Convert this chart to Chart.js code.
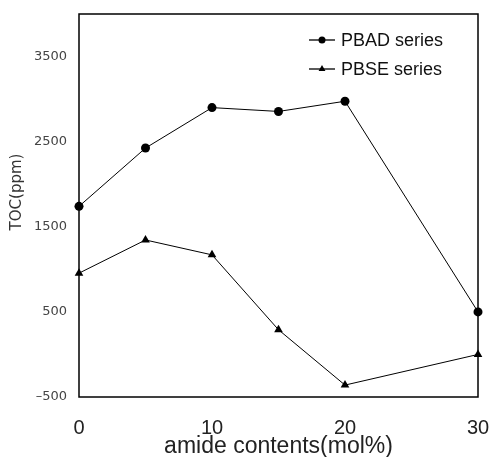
<!DOCTYPE html>
<html>
<head>
<meta charset="utf-8">
<script src="https://cdn.jsdelivr.net/npm/chart.js@4.4.1/dist/chart.umd.min.js"></script>
<style>
html,body{margin:0;padding:0;background:#fff;}
#wrap{width:491px;height:457px;position:relative;}
</style>
</head>
<body>
<div id="wrap"><canvas id="c" width="491" height="457"></canvas></div>
<script>
const amideContents = [0, 5, 10, 15, 20, 30];
const pbadValues = [1740, 2425, 2900, 2855, 2975, 500];
const pbseValues = [955, 1345, 1170, 290, -360, 0];
const seriesNames = ['PBAD series', 'PBSE series'];
const xTickValues = [0, 10, 20, 30];
const yTickValues = [-500, 500, 1500, 2500, 3500];
const xTitle = 'amide contents(mol%)';
const yTitle = 'TOC(ppm)';

const toPts = (vals) => amideContents.map((x, i) => ({x: x, y: vals[i]}));

const frameAndLegend = {
  id: 'frameAndLegend',
  afterDraw(chart) {
    const ctx = chart.ctx;
    const a = chart.chartArea;
    ctx.save();
    ctx.strokeStyle = '#000';
    ctx.lineWidth = 1.5;
    ctx.strokeRect(a.left, a.top, a.right - a.left, a.bottom - a.top);
    // y axis title
    ctx.save();
    ctx.translate(17, a.top + 178);
    ctx.rotate(-Math.PI / 2);
    ctx.fillStyle = '#333';
    ctx.font = '15px "DejaVu Sans", sans-serif';
    ctx.textAlign = 'center';
    ctx.textBaseline = 'middle';
    ctx.fillText(yTitle, 0, 0);
    ctx.restore();
    // legend
    chart.data.datasets.forEach((ds, i) => {
      const y = a.top + 26 + i * 29;
      const x0 = a.right - 169;
      const x1 = x0 + 26;
      ctx.strokeStyle = '#000';
      ctx.lineWidth = 1.3;
      ctx.beginPath();
      ctx.moveTo(x0, y);
      ctx.lineTo(x1, y);
      ctx.stroke();
      ctx.fillStyle = '#000';
      Chart.helpers.drawPoint(ctx, {pointStyle: ds.pointStyle, radius: ds.pointRadius - 1, rotation: 0, borderWidth: 0}, (x0 + x1) / 2, y);
      ctx.fillStyle = '#111';
      ctx.font = '18px "Liberation Sans", Arial, sans-serif';
      ctx.textBaseline = 'middle';
      ctx.textAlign = 'left';
      ctx.fillText(ds.label, x1 + 6, y + 1);
    });
    ctx.restore();
  }
};

new Chart(document.getElementById('c'), {
  type: 'line',
  data: {
    datasets: [
      {label: seriesNames[0], data: toPts(pbadValues), borderColor: '#000', backgroundColor: '#000',
       borderWidth: 1, pointStyle: 'circle', pointRadius: 4.5, pointBorderWidth: 0, tension: 0},
      {label: seriesNames[1], data: toPts(pbseValues), borderColor: '#000', backgroundColor: '#000',
       borderWidth: 1, pointStyle: 'triangle', pointRadius: 5, pointBorderWidth: 0, tension: 0}
    ]
  },
  options: {
    responsive: false,
    animation: false,
    clip: false,
    layout: {padding: {left: 0, right: 13, top: 14, bottom: 0}},
    plugins: {legend: {display: false}, tooltip: {enabled: false}},
    scales: {
      x: {
        type: 'linear', min: 0, max: 30,
        afterBuildTicks: (s) => { s.ticks = xTickValues.map(v => ({value: v})); },
        afterFit: (s) => { s.height = 60; s.paddingLeft = 0; s.paddingRight = 0; },
        grid: {display: false, drawTicks: false},
        border: {display: false},
        ticks: {padding: 19, color: '#222', font: {family: '"Liberation Sans", Arial, sans-serif', size: 20}, maxRotation: 0},
        title: {display: true, text: xTitle, color: '#222', padding: {top: 0, bottom: -3},
                font: {family: '"Liberation Sans", Arial, sans-serif', size: 23}}
      },
      y: {
        type: 'linear', min: -500, max: 4000,
        afterBuildTicks: (s) => { s.ticks = yTickValues.map(v => ({value: v})); },
        afterFit: (s) => { s.width = 79; s.paddingTop = 0; s.paddingBottom = 0; },
        grid: {display: false, drawTicks: false},
        border: {display: false},
        ticks: {padding: 12, color: '#444', font: {family: '"DejaVu Sans", sans-serif', size: 13},
                callback: (v) => String(v).replace('-', '\u2013')},
        title: {display: false}
      }
    }
  },
  plugins: [frameAndLegend]
});
</script>
</body>
</html>
